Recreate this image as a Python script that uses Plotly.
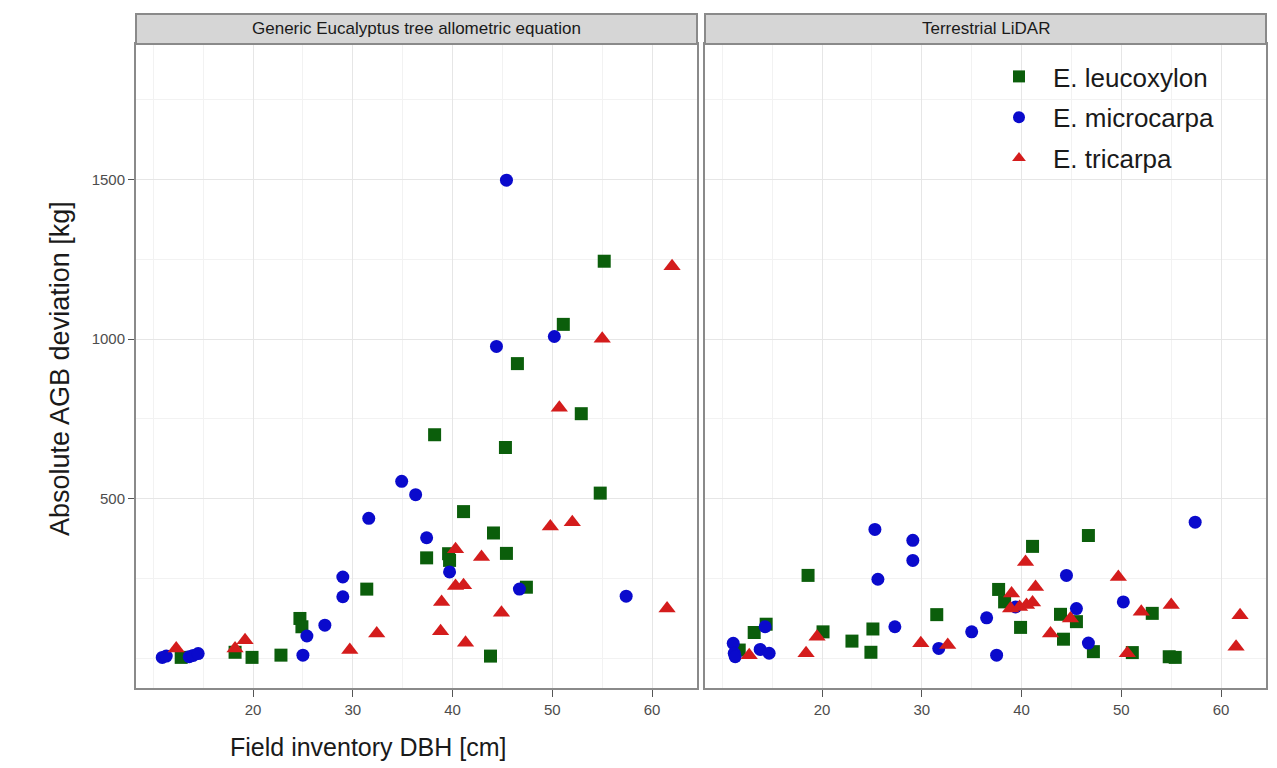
import plotly.graph_objects as go

# Field inventory DBH [cm] and absolute AGB deviation [kg] per species
# Panel 1: generic Eucalyptus allometric equation
leu_dbh_gen = [12.8, 18.2, 19.9, 22.8, 24.7, 24.9, 31.4, 37.4, 38.2, 39.6, 39.7,
               41.1, 43.8, 44.1, 45.3, 45.4, 46.5, 47.4, 51.1, 52.9, 54.8, 55.2]
leu_dev_gen = [2, 18, 2, 9, 124, 98, 216, 314, 700, 327, 306,
               459, 6, 392, 660, 328, 923, 222, 1046, 766, 517, 1244]

mic_dbh_gen = [10.9, 11.3, 13.6, 14.0, 14.5, 25.0, 25.4, 27.2, 29.0, 29.0,
               31.6, 34.9, 36.3, 37.4, 39.7, 44.4, 45.4, 46.7, 50.2, 57.4]
mic_dev_gen = [2, 6, 4, 8, 14, 9, 69, 103, 254, 192,
               438, 554, 512, 377, 270, 977, 1498, 216, 1008, 194]

tri_dbh_gen = [12.3, 18.2, 19.2, 29.7, 32.4, 38.8, 38.9, 40.3, 40.3, 41.1,
               41.3, 42.9, 44.9, 49.8, 50.7, 52.0, 55.0, 61.5, 62.0]
tri_dev_gen = [30, 30, 56, 25, 77, 84, 176, 341, 226, 228,
               48, 317, 142, 412, 785, 426, 1001, 155, 1228]

# Panel 2: terrestrial LiDAR
leu_dbh_tls = [11.7, 13.2, 14.4, 18.6, 20.1, 23.0, 24.9, 25.1, 31.5, 37.7, 38.3,
               39.9, 41.1, 43.9, 44.2, 45.5, 46.7, 47.2, 51.1, 53.1, 54.8, 55.4]
leu_dev_tls = [25, 80, 106, 259, 82, 53, 18, 91, 136, 215, 176,
               96, 350, 137, 59, 114, 384, 20, 17, 140, 4, 2]

mic_dbh_tls = [11.1, 11.2, 11.3, 13.8, 14.3, 14.7, 25.3, 25.6, 27.3, 29.1, 29.1,
               31.7, 35.0, 36.5, 37.5, 39.4, 44.5, 45.5, 46.7, 50.2, 57.4]
mic_dev_tls = [46, 15, 4, 27, 98, 15, 403, 247, 98, 369, 306,
               30, 82, 126, 9, 160, 259, 155, 47, 176, 426]

tri_dbh_tls = [12.7, 18.4, 19.5, 29.9, 32.6, 38.9, 39.0, 39.8, 40.4, 40.5,
               41.1, 41.4, 42.9, 44.9, 49.7, 50.6, 52.0, 55.0, 61.5, 61.9]
tri_dev_tls = [9, 15, 67, 46, 41, 155, 202, 160, 301, 166,
               174, 223, 77, 124, 254, 15, 145, 166, 35, 134]

panel_titles = ["Generic Eucalyptus tree allometric equation", "Terrestrial LiDAR"]
species = ["E. leucoxylon", "E. microcarpa", "E. tricarpa"]
x_ticks = [20, 30, 40, 50, 60]
y_ticks = [500, 1000, 1500]

FONT = "Liberation Sans, Arial, sans-serif"
colors = ["#0b5e0b", "#0a0acc", "#d41c1c"]
symbols = ["square", "circle", "triangle-up"]
sizes = [13, 13, 15]

panels = [
    [(leu_dbh_gen, leu_dev_gen), (mic_dbh_gen, mic_dev_gen), (tri_dbh_gen, tri_dev_gen)],
    [(leu_dbh_tls, leu_dev_tls), (mic_dbh_tls, mic_dev_tls), (tri_dbh_tls, tri_dev_tls)],
]

fig = go.Figure()
for p, series in enumerate(panels):
    for s, (xs, ys) in enumerate(series):
        fig.add_trace(go.Scatter(
            x=xs, y=ys, mode="markers",
            name=species[s], legendgroup=species[s],
            showlegend=(p == 1),
            xaxis="x" if p == 0 else "x2", yaxis="y" if p == 0 else "y2",
            marker=dict(symbol=symbols[s], size=sizes[s], color=colors[s],
                        line=dict(width=0)),
        ))

W, H = 1277, 768
dom_left = [136 / W, 697 / W]
dom_right = [705 / W, 1266 / W]
dom_y = [(H - 688) / H, (H - 44) / H]
strip_top = (H - 14) / H

x_range = [8.27, 64.5]
y_range = [-94, 1925]

grid_major = "#e6e6e6"
grid_minor = "#f2f2f2"
border = "#8a8a8a"

def xaxis(domain, anchor):
    return dict(
        domain=domain, anchor=anchor, range=x_range,
        tickmode="array", tickvals=x_ticks,
        showgrid=True, gridcolor=grid_major, gridwidth=1.2,
        minor=dict(tickvals=[10, 15, 25, 35, 45, 55], showgrid=True,
                   gridcolor=grid_minor, gridwidth=0.6, ticks=""),
        ticks="outside", ticklen=7, tickcolor="#555555", tickwidth=1,
        showline=True, mirror=True, linecolor=border, linewidth=2,
        zeroline=False,
        tickfont=dict(family=FONT, size=15, color="#4d4d4d"),
    )

def yaxis(anchor, labels):
    return dict(
        domain=dom_y, anchor=anchor, range=y_range,
        tickmode="array", tickvals=y_ticks,
        showticklabels=labels,
        showgrid=True, gridcolor=grid_major, gridwidth=1.2,
        minor=dict(tickvals=[0, 250, 750, 1250, 1750], showgrid=True,
                   gridcolor=grid_minor, gridwidth=0.6, ticks=""),
        ticks="outside" if labels else "", ticklen=6, tickcolor="#555555", tickwidth=1,
        showline=True, mirror=True, linecolor=border, linewidth=2,
        zeroline=False,
        tickfont=dict(family=FONT, size=15, color="#4d4d4d"),
    )

shapes = []
annotations = []
for dom, title in zip([dom_left, dom_right], panel_titles):
    shapes.append(dict(type="rect", xref="paper", yref="paper",
                       x0=dom[0], x1=dom[1], y0=dom_y[1], y1=strip_top,
                       fillcolor="#d6d6d6", line=dict(color=border, width=2),
                       layer="above"))
    annotations.append(dict(xref="paper", yref="paper",
                            x=(dom[0] + dom[1]) / 2, y=(dom_y[1] + strip_top) / 2,
                            text=title, showarrow=False,
                            xanchor="center", yanchor="middle",
                            font=dict(family=FONT, size=17, color="#1a1a1a")))

annotations.append(dict(xref="paper", yref="paper", x=368 / W, y=(H - 747) / H,
                        text="Field inventory DBH [cm]", showarrow=False,
                        xanchor="center", yanchor="middle",
                        font=dict(family=FONT, size=25, color="#1a1a1a")))
annotations.append(dict(xref="paper", yref="paper", x=60 / W, y=(H - 369) / H,
                        text="Absolute AGB deviation [kg]", showarrow=False,
                        textangle=-90, xanchor="center", yanchor="middle",
                        font=dict(family=FONT, size=27, color="#1a1a1a")))

fig.update_layout(
    width=W, height=H,
    margin=dict(l=0, r=0, t=0, b=0),
    paper_bgcolor="white", plot_bgcolor="white",
    xaxis=xaxis(dom_left, "y"),
    xaxis2=xaxis(dom_right, "y2"),
    yaxis=yaxis("x", True),
    yaxis2=yaxis("x2", False),
    shapes=shapes,
    annotations=annotations,
    showlegend=True,
    legend=dict(x=985 / W, y=(H - 53) / H, xanchor="left", yanchor="top",
                bgcolor="rgba(0,0,0,0)", borderwidth=0,
                traceorder="grouped", tracegroupgap=4, itemwidth=58,
                font=dict(family=FONT, size=26, color="#1a1a1a"),
                itemsizing="constant"),
)

fig.write_html("out.html")
